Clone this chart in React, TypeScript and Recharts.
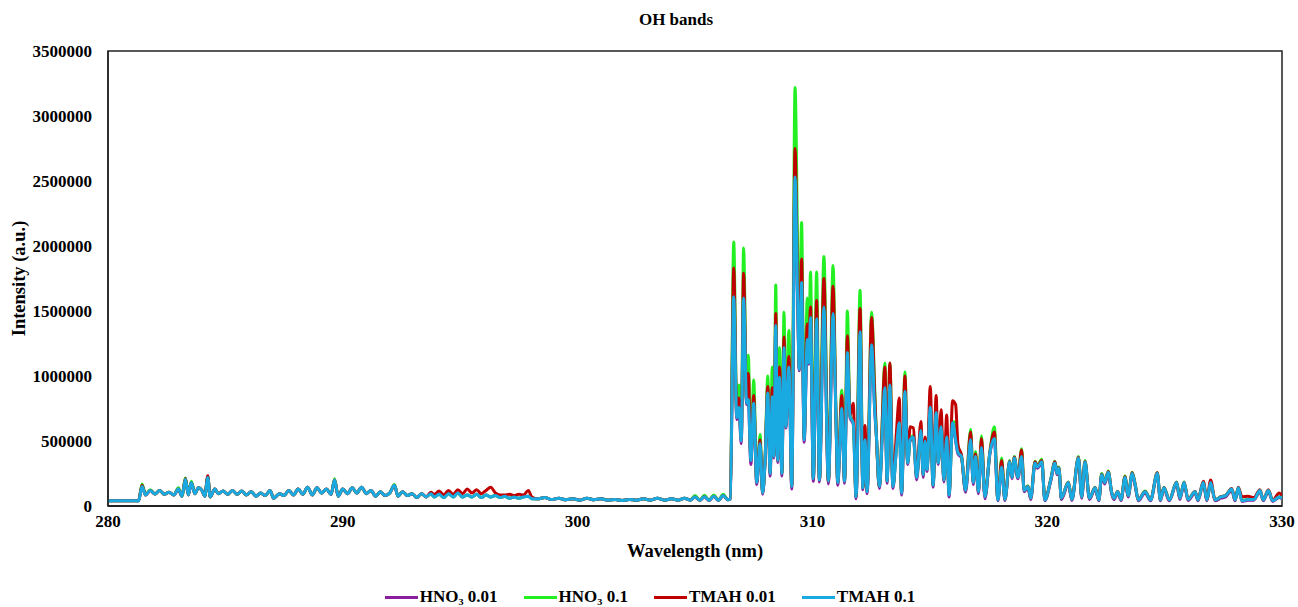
import { LineChart, Line, XAxis, YAxis, Legend, ReferenceArea } from "recharts";

// wavelength (nm)
const wavelength = [
  280.0, 281.3, 281.45, 281.6, 281.8, 282.0, 282.2, 282.4, 282.6, 282.8,
  283.0, 283.15, 283.3, 283.42, 283.55, 283.7, 283.85, 284.0, 284.12, 284.25,
  284.35, 284.55, 284.7, 284.9, 285.1, 285.3, 285.5, 285.7, 285.9, 286.1,
  286.3, 286.5, 286.7, 286.9, 287.05, 287.3, 287.5, 287.7, 287.9, 288.1,
  288.3, 288.5, 288.7, 288.9, 289.1, 289.3, 289.5, 289.65, 289.8, 290.0,
  290.2, 290.4, 290.6, 290.8, 291.0, 291.2, 291.4, 291.6, 291.8, 292.0,
  292.2, 292.35, 292.55, 292.75, 292.95, 293.15, 293.35, 293.55, 293.75, 293.9,
  294.1, 294.3, 294.5, 294.7, 294.9, 295.1, 295.3, 295.5, 295.7, 295.9,
  296.1, 296.3, 296.5, 296.7, 296.9, 297.1, 297.3, 297.5, 297.7, 297.9,
  298.05, 298.3, 298.6, 298.9, 299.2, 299.5, 299.8, 300.1, 300.4, 300.7,
  301.0, 301.3, 301.6, 301.9, 302.2, 302.5, 302.8, 303.1, 303.4, 303.7,
  304.0, 304.3, 304.55, 304.8, 305.0, 305.2, 305.4, 305.6, 305.8, 306.0,
  306.2, 306.4, 306.5, 306.65, 306.78, 306.87, 306.97, 307.07, 307.2, 307.27,
  307.38, 307.5, 307.63, 307.77, 307.88, 307.98, 308.1, 308.2, 308.29, 308.36,
  308.44, 308.52, 308.6, 308.7, 308.79, 308.87, 309.0, 309.12, 309.26, 309.37,
  309.44, 309.54, 309.65, 309.78, 309.85, 309.92, 310.04, 310.18, 310.3, 310.49,
  310.68, 310.88, 311.0, 311.08, 311.25, 311.37, 311.49, 311.6, 311.74, 311.86,
  312.03, 312.15, 312.24, 312.33, 312.52, 312.66, 312.72, 312.85, 313.09, 313.18,
  313.3, 313.43, 313.58, 313.7, 313.8, 313.94, 314.06, 314.16, 314.3, 314.44,
  314.62, 314.72, 314.8, 314.88, 315.02, 315.14, 315.27, 315.36, 315.48, 315.6,
  315.72, 315.82, 315.97, 316.1, 316.2, 316.35, 316.52, 316.74, 316.85, 316.95,
  317.07, 317.2, 317.35, 317.56, 317.75, 317.9, 318.06, 318.2, 318.4, 318.5,
  318.6, 318.75, 318.91, 319.02, 319.18, 319.3, 319.48, 319.58, 319.77, 319.9,
  320.15, 320.33, 320.42, 320.5, 320.6, 320.9, 321.05, 321.33, 321.47, 321.61,
  321.8, 322.04, 322.2, 322.32, 322.45, 322.6, 322.75, 322.85, 323.0, 323.15,
  323.31, 323.45, 323.62, 323.75, 323.88, 324.17, 324.4, 324.69, 324.82, 324.97,
  325.2, 325.51, 325.65, 325.83, 326.0, 326.3, 326.42, 326.65, 326.8, 326.96,
  327.15, 327.4, 327.6, 327.86, 328.0, 328.14, 328.3, 328.55, 328.8, 329.06,
  329.2, 329.42, 329.6, 329.88, 330.0,
];

// intensities in thousands (a.u. / 1000)
const hno3_001 = [
  40, 40, 150, 85, 120, 93, 120, 90, 105, 85,
  130, 75, 205, 85, 180, 95, 140, 120, 75, 220,
  70, 130, 95, 115, 90, 120, 90, 115, 85, 110,
  75, 100, 80, 120, 60, 95, 80, 120, 85, 130,
  90, 145, 85, 140, 100, 130, 90, 200, 75, 130,
  95, 140, 100, 145, 95, 120, 75, 110, 80, 100,
  160, 75, 110, 80, 95, 65, 95, 70, 95, 70,
  90, 65, 95, 70, 100, 70, 85, 70, 90, 65,
  85, 70, 80, 65, 75, 60, 70, 60, 70, 75,
  55, 55, 65, 50, 60, 48, 55, 45, 60, 48,
  55, 45, 50, 42, 50, 45, 55, 45, 60, 45,
  55, 45, 60, 45, 70, 45, 72, 45, 75, 45,
  80, 48, 55, 1590, 665, 740, 480, 1580, 780, 810,
  320, 780, 165, 470, 90, 325, 860, 230, 830, 370,
  1380, 335, 980, 230, 1210, 600, 1060, 130, 2500, 1590,
  1040, 1700, 490, 1270, 1090, 1440, 190, 1430, 185, 1520,
  170, 1470, 700, 160, 740, 175, 1170, 680, 630, 55,
  1330, 125, 500, 95, 1230, 710, 550, 135, 900, 175,
  920, 135, 440, 630, 85, 870, 320, 500, 520, 200,
  570, 220, 490, 265, 750, 145, 710, 320, 600, 185,
  520, 70, 630, 500, 400, 370, 105, 500, 165, 370,
  95, 440, 55, 400, 510, 40, 290, 42, 330, 210,
  360, 210, 370, 110, 140, 50, 320, 290, 330, 40,
  190, 320, 240, 280, 50, 170, 42, 360, 60, 330,
  50, 130, 40, 230, 170, 250, 90, 50, 100, 42,
  210, 70, 240, 150, 40, 100, 40, 240, 40, 130,
  40, 170, 50, 170, 42, 100, 40, 170, 40, 170,
  40, 60, 70, 120, 40, 130, 35, 45, 45, 110,
  40, 110, 35, 65, 55,
];

const hno3_01 = [
  40, 40, 170, 85, 125, 93, 120, 90, 105, 85,
  140, 75, 215, 85, 190, 95, 140, 120, 75, 225,
  70, 130, 95, 115, 90, 120, 90, 115, 85, 110,
  75, 100, 80, 120, 60, 95, 80, 120, 85, 130,
  90, 145, 85, 140, 100, 130, 90, 210, 75, 130,
  95, 140, 100, 145, 95, 120, 75, 110, 80, 100,
  165, 75, 110, 80, 95, 65, 95, 70, 95, 70,
  90, 65, 95, 70, 100, 70, 85, 70, 90, 65,
  85, 70, 80, 65, 75, 60, 70, 60, 70, 75,
  55, 55, 65, 50, 60, 48, 55, 45, 60, 48,
  55, 45, 50, 42, 50, 45, 55, 45, 60, 45,
  55, 45, 60, 45, 80, 45, 82, 45, 85, 45,
  90, 48, 55, 2030, 700, 930, 520, 1985, 800, 1160,
  360, 970, 185, 550, 105, 340, 1000, 255, 1070, 390,
  1700, 360, 1220, 255, 1490, 620, 1350, 155, 3220, 1990,
  1060, 2180, 520, 1600, 1250, 1800, 215, 1800, 205, 1920,
  195, 1850, 740, 185, 890, 195, 1500, 700, 650, 75,
  1660, 145, 530, 115, 1490, 870, 570, 155, 1100, 195,
  1100, 155, 460, 660, 105, 1030, 335, 520, 540, 225,
  590, 245, 510, 285, 780, 165, 740, 335, 630, 205,
  545, 90, 650, 640, 450, 385, 125, 590, 185, 420,
  115, 540, 75, 420, 610, 50, 370, 52, 350, 225,
  380, 225, 440, 125, 155, 62, 345, 310, 360, 48,
  205, 345, 255, 300, 62, 185, 52, 380, 72, 350,
  62, 145, 48, 250, 185, 270, 102, 62, 112, 52,
  230, 82, 260, 165, 48, 115, 48, 255, 48, 145,
  48, 185, 62, 185, 52, 112, 48, 185, 48, 185,
  48, 72, 82, 132, 48, 142, 42, 52, 52, 122,
  48, 122, 42, 72, 62,
];

const tmah_001 = [
  40, 40, 160, 85, 120, 93, 120, 90, 105, 85,
  130, 75, 212, 85, 180, 95, 140, 120, 75, 232,
  70, 130, 95, 115, 90, 120, 90, 115, 85, 110,
  75, 100, 80, 120, 60, 95, 80, 120, 85, 130,
  90, 145, 85, 140, 100, 130, 90, 200, 75, 130,
  95, 140, 100, 145, 95, 120, 75, 110, 80, 100,
  160, 75, 110, 80, 95, 65, 95, 70, 105, 90,
  115, 85, 120, 90, 125, 95, 130, 100, 125, 95,
  120, 145, 100, 85, 85, 90, 80, 90, 85, 120,
  70, 55, 65, 50, 60, 48, 55, 45, 60, 48,
  55, 45, 50, 42, 50, 45, 55, 45, 60, 45,
  55, 45, 60, 45, 70, 45, 72, 45, 75, 45,
  80, 48, 55, 1830, 690, 830, 510, 1790, 795, 1020,
  355, 850, 182, 510, 102, 335, 920, 252, 910, 385,
  1480, 355, 1070, 252, 1300, 615, 1150, 152, 2750, 1700,
  1055, 1900, 515, 1400, 1250, 1530, 212, 1580, 202, 1750,
  192, 1690, 730, 182, 850, 192, 1310, 695, 790, 72,
  1520, 142, 620, 112, 1450, 830, 565, 152, 1070, 192,
  1100, 152, 570, 830, 102, 1000, 332, 610, 600, 222,
  650, 242, 530, 290, 920, 162, 850, 332, 740, 202,
  700, 88, 810, 780, 470, 390, 122, 570, 182, 400,
  112, 520, 72, 415, 570, 48, 350, 51, 345, 222,
  375, 222, 430, 122, 152, 61, 340, 305, 350, 47,
  202, 340, 252, 295, 61, 182, 51, 375, 71, 345,
  61, 142, 47, 245, 182, 265, 101, 61, 111, 51,
  225, 81, 255, 162, 47, 112, 47, 255, 47, 142,
  47, 182, 61, 182, 51, 111, 47, 190, 47, 200,
  47, 71, 81, 135, 47, 145, 70, 75, 65, 125,
  47, 125, 41, 100, 80,
];

const tmah_01 = [
  40, 40, 150, 85, 120, 93, 120, 90, 105, 85,
  130, 75, 205, 85, 180, 95, 140, 120, 75, 220,
  70, 130, 95, 115, 90, 120, 90, 115, 85, 110,
  75, 100, 80, 120, 60, 95, 80, 120, 85, 130,
  90, 145, 85, 140, 100, 130, 90, 200, 75, 130,
  95, 140, 100, 145, 95, 120, 75, 110, 80, 100,
  160, 75, 110, 80, 95, 65, 95, 70, 95, 70,
  90, 65, 95, 70, 100, 70, 85, 70, 90, 65,
  85, 70, 80, 65, 75, 60, 70, 60, 70, 75,
  55, 55, 65, 50, 60, 48, 55, 45, 60, 48,
  55, 45, 50, 42, 50, 45, 55, 45, 60, 45,
  55, 45, 60, 45, 70, 45, 72, 45, 75, 45,
  80, 48, 55, 1610, 680, 760, 500, 1600, 790, 820,
  350, 790, 180, 480, 100, 330, 870, 250, 840, 380,
  1390, 350, 990, 250, 1220, 610, 1070, 150, 2530, 1600,
  1050, 1720, 510, 1280, 1100, 1450, 210, 1440, 200, 1530,
  190, 1480, 710, 180, 750, 190, 1180, 690, 640, 70,
  1340, 140, 510, 110, 1240, 720, 560, 150, 910, 190,
  930, 150, 450, 640, 100, 880, 330, 510, 530, 220,
  580, 240, 500, 280, 760, 160, 720, 330, 610, 200,
  530, 85, 640, 510, 410, 380, 120, 510, 180, 380,
  110, 450, 70, 410, 520, 46, 300, 50, 340, 220,
  370, 220, 380, 120, 150, 60, 330, 300, 340, 46,
  200, 330, 250, 290, 60, 180, 50, 370, 70, 340,
  60, 140, 46, 240, 180, 260, 100, 60, 110, 50,
  220, 80, 250, 160, 46, 110, 46, 250, 46, 140,
  46, 180, 60, 180, 50, 110, 46, 180, 46, 180,
  46, 70, 80, 130, 46, 140, 40, 50, 50, 120,
  46, 120, 40, 70, 60,
];

const xTicks = [280, 290, 300, 310, 320, 330];
const yTicks = [0, 500000, 1000000, 1500000, 2000000, 2500000, 3000000, 3500000];

const seriesList = [
  { key: "hno3_001", name: "HNO\u2083 0.01", color: "#8B1E9E" },
  { key: "hno3_01", name: "HNO\u2083 0.1", color: "#22F022" },
  { key: "tmah_001", name: "TMAH 0.01", color: "#C00000" },
  { key: "tmah_01", name: "TMAH 0.1", color: "#1AAAE2" },
];

const data = wavelength.map((w, i) => ({
  w,
  hno3_001: hno3_001[i] * 1000,
  hno3_01: hno3_01[i] * 1000,
  tmah_001: tmah_001[i] * 1000,
  tmah_01: tmah_01[i] * 1000,
}));

const FONT = '"Liberation Serif", "Times New Roman", serif';
const tickStyle = { fontFamily: FONT, fontSize: 17, fontWeight: 700, fill: "#000" };

const LegendContent = () => (
  <div
    style={{
      display: "flex",
      justifyContent: "center",
      gap: 26,
      height: 20,
      lineHeight: "20px",
      fontFamily: FONT,
      fontSize: 17,
      fontWeight: 700,
      color: "#000",
    }}
  >
    {seriesList.map((s) => (
      <div key={s.key} style={{ display: "flex", alignItems: "center" }}>
        <span style={{ display: "inline-block", width: 33, height: 3, background: s.color, marginRight: 2 }} />
        <span>{s.name}</span>
      </div>
    ))}
  </div>
);

const App = () => {
  return (
    <div style={{ position: "relative", width: 1298, height: 607 }}>
      {/* use the whole window, the reference has no page margin */}
      <style>{"body{margin:0}"}</style>
      <div
        style={{
          position: "absolute",
          top: 10,
          left: 676,
          transform: "translateX(-50%)",
          fontFamily: FONT,
          fontSize: 17,
          fontWeight: 700,
          lineHeight: "20px",
          whiteSpace: "nowrap",
        }}
      >
        OH bands
      </div>
      <LineChart width={1298} height={607} data={data} margin={{ top: 51, right: 16, left: 18, bottom: 0 }}>
        <XAxis
          dataKey="w"
          type="number"
          domain={[280, 330]}
          ticks={xTicks}
          allowDataOverflow
          height={81}
          tickLine={false}
          tickSize={6}
          tickMargin={3}
          axisLine={{ stroke: "#222", strokeWidth: 2 }}
          tick={tickStyle}
          label={{
            content: (props: any) => {
              const vb = props.viewBox || {};
              return (
                <text
                  x={vb.x + vb.width / 2}
                  y={vb.y + 51}
                  textAnchor="middle"
                  style={{ fontFamily: FONT, fontSize: 18.5, fontWeight: 700, fill: "#000" }}
                >
                  Wavelength (nm)
                </text>
              );
            },
          }}
        />
        <YAxis
          type="number"
          domain={[0, 3500000]}
          ticks={yTicks}
          width={90}
          tickLine={false}
          tickSize={6}
          tickMargin={10}
          axisLine={{ stroke: "#222", strokeWidth: 1.5 }}
          tick={tickStyle}
          label={{
            content: (props: any) => {
              const vb = props.viewBox || {};
              const cx = vb.x + 1;
              const cy = vb.y + vb.height / 2;
              return (
                <text
                  x={cx}
                  y={cy}
                  textAnchor="middle"
                  dominantBaseline="central"
                  transform={`rotate(-90 ${cx} ${cy})`}
                  style={{ fontFamily: FONT, fontSize: 18.5, fontWeight: 700, fill: "#000" }}
                >
                  Intensity (a.u.)
                </text>
              );
            },
          }}
        />
        <ReferenceArea x1={280} x2={330} y1={0} y2={3500000} fill="none" stroke="#222" strokeWidth={1.5} />
        {seriesList.map((s) => (
          <Line
            key={s.key}
            type="monotone"
            dataKey={s.key}
            name={s.name}
            stroke={s.color}
            strokeWidth={3}
            dot={false}
            activeDot={false}
            isAnimationActive={false}
          />
        ))}
        <Legend verticalAlign="bottom" content={<LegendContent />} />
      </LineChart>
    </div>
  );
};

export default App;
